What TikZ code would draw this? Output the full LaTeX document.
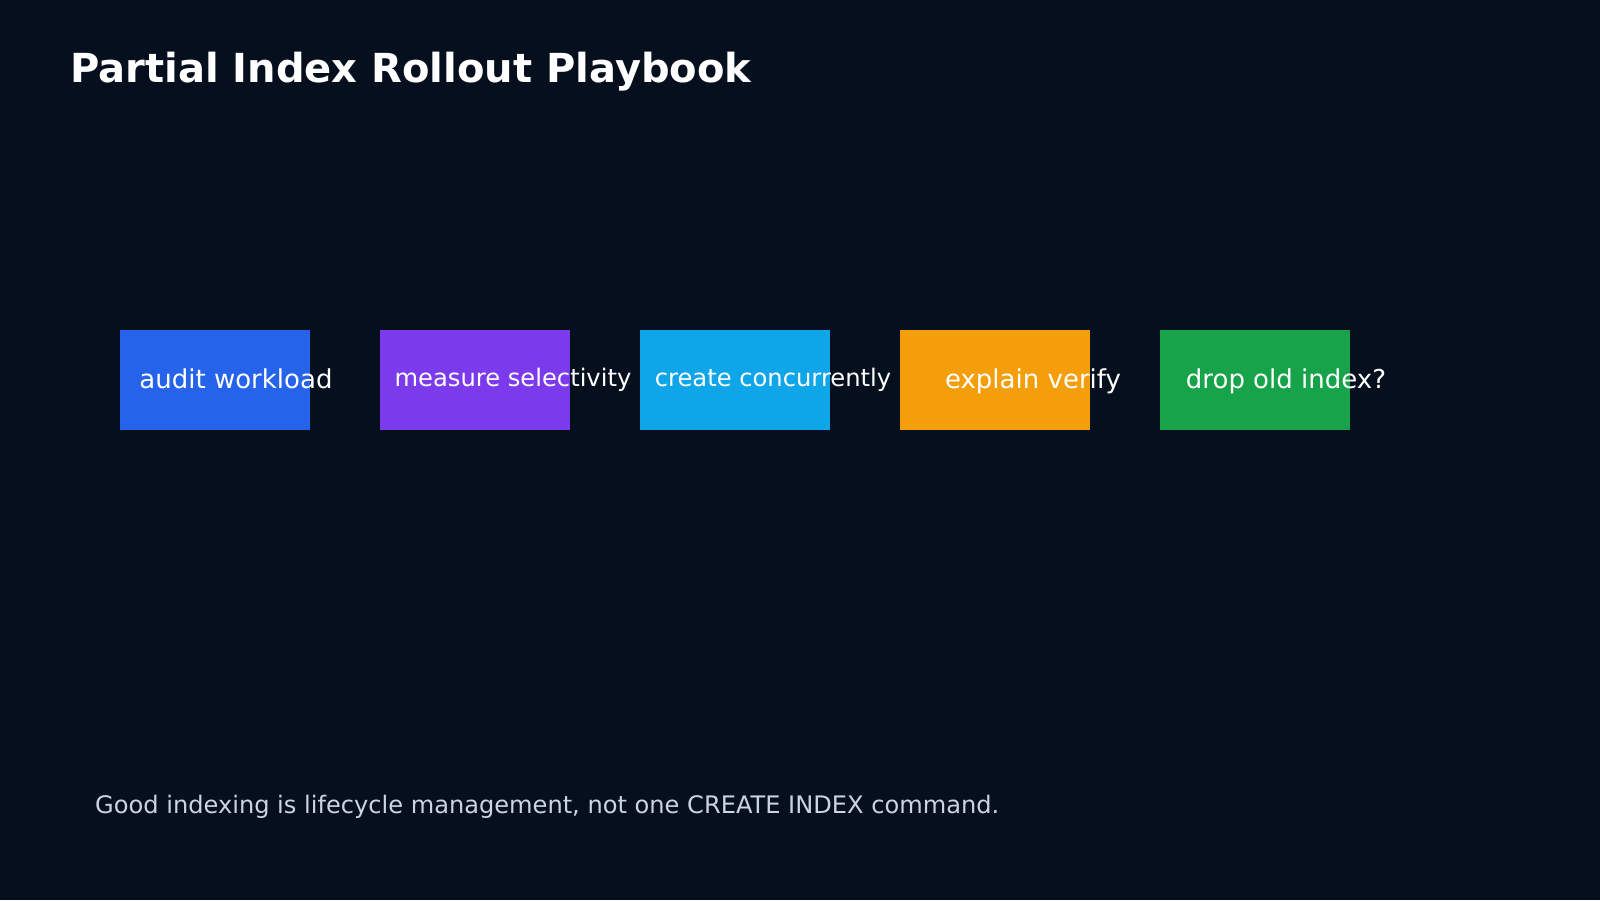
\documentclass[tikz,border=0pt]{standalone}
\usepackage{fontspec}
\setmainfont{DejaVu Sans}
\usetikzlibrary {positioning}

\definecolor{bgnavy}{HTML}{060F1E}
\definecolor{stepblue}{HTML}{2563EB}
\definecolor{steppurple}{HTML}{7C3AED}
\definecolor{stepsky}{HTML}{0EA5E9}
\definecolor{stepamber}{HTML}{F59E0B}
\definecolor{stepgreen}{HTML}{16A34A}
\definecolor{notegray}{HTML}{CBD5E1}

\tikzset{
  stagebox/.style={fill=#1, draw=none, minimum width=190pt, minimum height=100pt, inner sep=0pt, anchor=north west},
  stagetext/.style={text=white, anchor=base, inner sep=0pt, font=\fontsize{26}{30}\selectfont},
  smalltext/.style={stagetext, font=\fontsize{24.2}{28}\selectfont}
}

\begin{document}
\begin{tikzpicture}[x=1pt,y=-1pt]
        \fill[bgnavy] (0,0) rectangle (1600,900);
        \useasboundingbox (0,0) rectangle (1600,900);
        \node[text=white, anchor=base west, inner sep=0pt, font=\fontsize{40}{46}\selectfont\bfseries] (title) at (70,82) {Partial Index Rollout Playbook};

        \node[stagebox=stepblue] (audit) at (120,330) {};
        \node[stagebox=steppurple] (measure) at (380,330) {};
        \node[stagebox=stepsky] (create) at (640,330) {};
        \node[stagebox=stepamber] (explain) at (900,330) {};
        \node[stagebox=stepgreen] (drop) at (1160,330) {};

        \node[stagetext] (auditlbl) at (236,388) {audit workload};
        \node[smalltext] (measurelbl) at (513,386) {measure selectivity};
        \node[smalltext] (createlbl) at (773,386) {create concurrently};
        \node[stagetext] (explainlbl) at (1033,388) {explain verify};
        \node[stagetext] (droplbl) at (1286,388) {drop old index?};

        \node[text=notegray, anchor=base west, inner sep=0pt, font=\fontsize{24.1}{28}\selectfont] (note) at (95,813) {Good indexing is lifecycle management, not one CREATE INDEX command.};
      \end{tikzpicture}
\end{document}
